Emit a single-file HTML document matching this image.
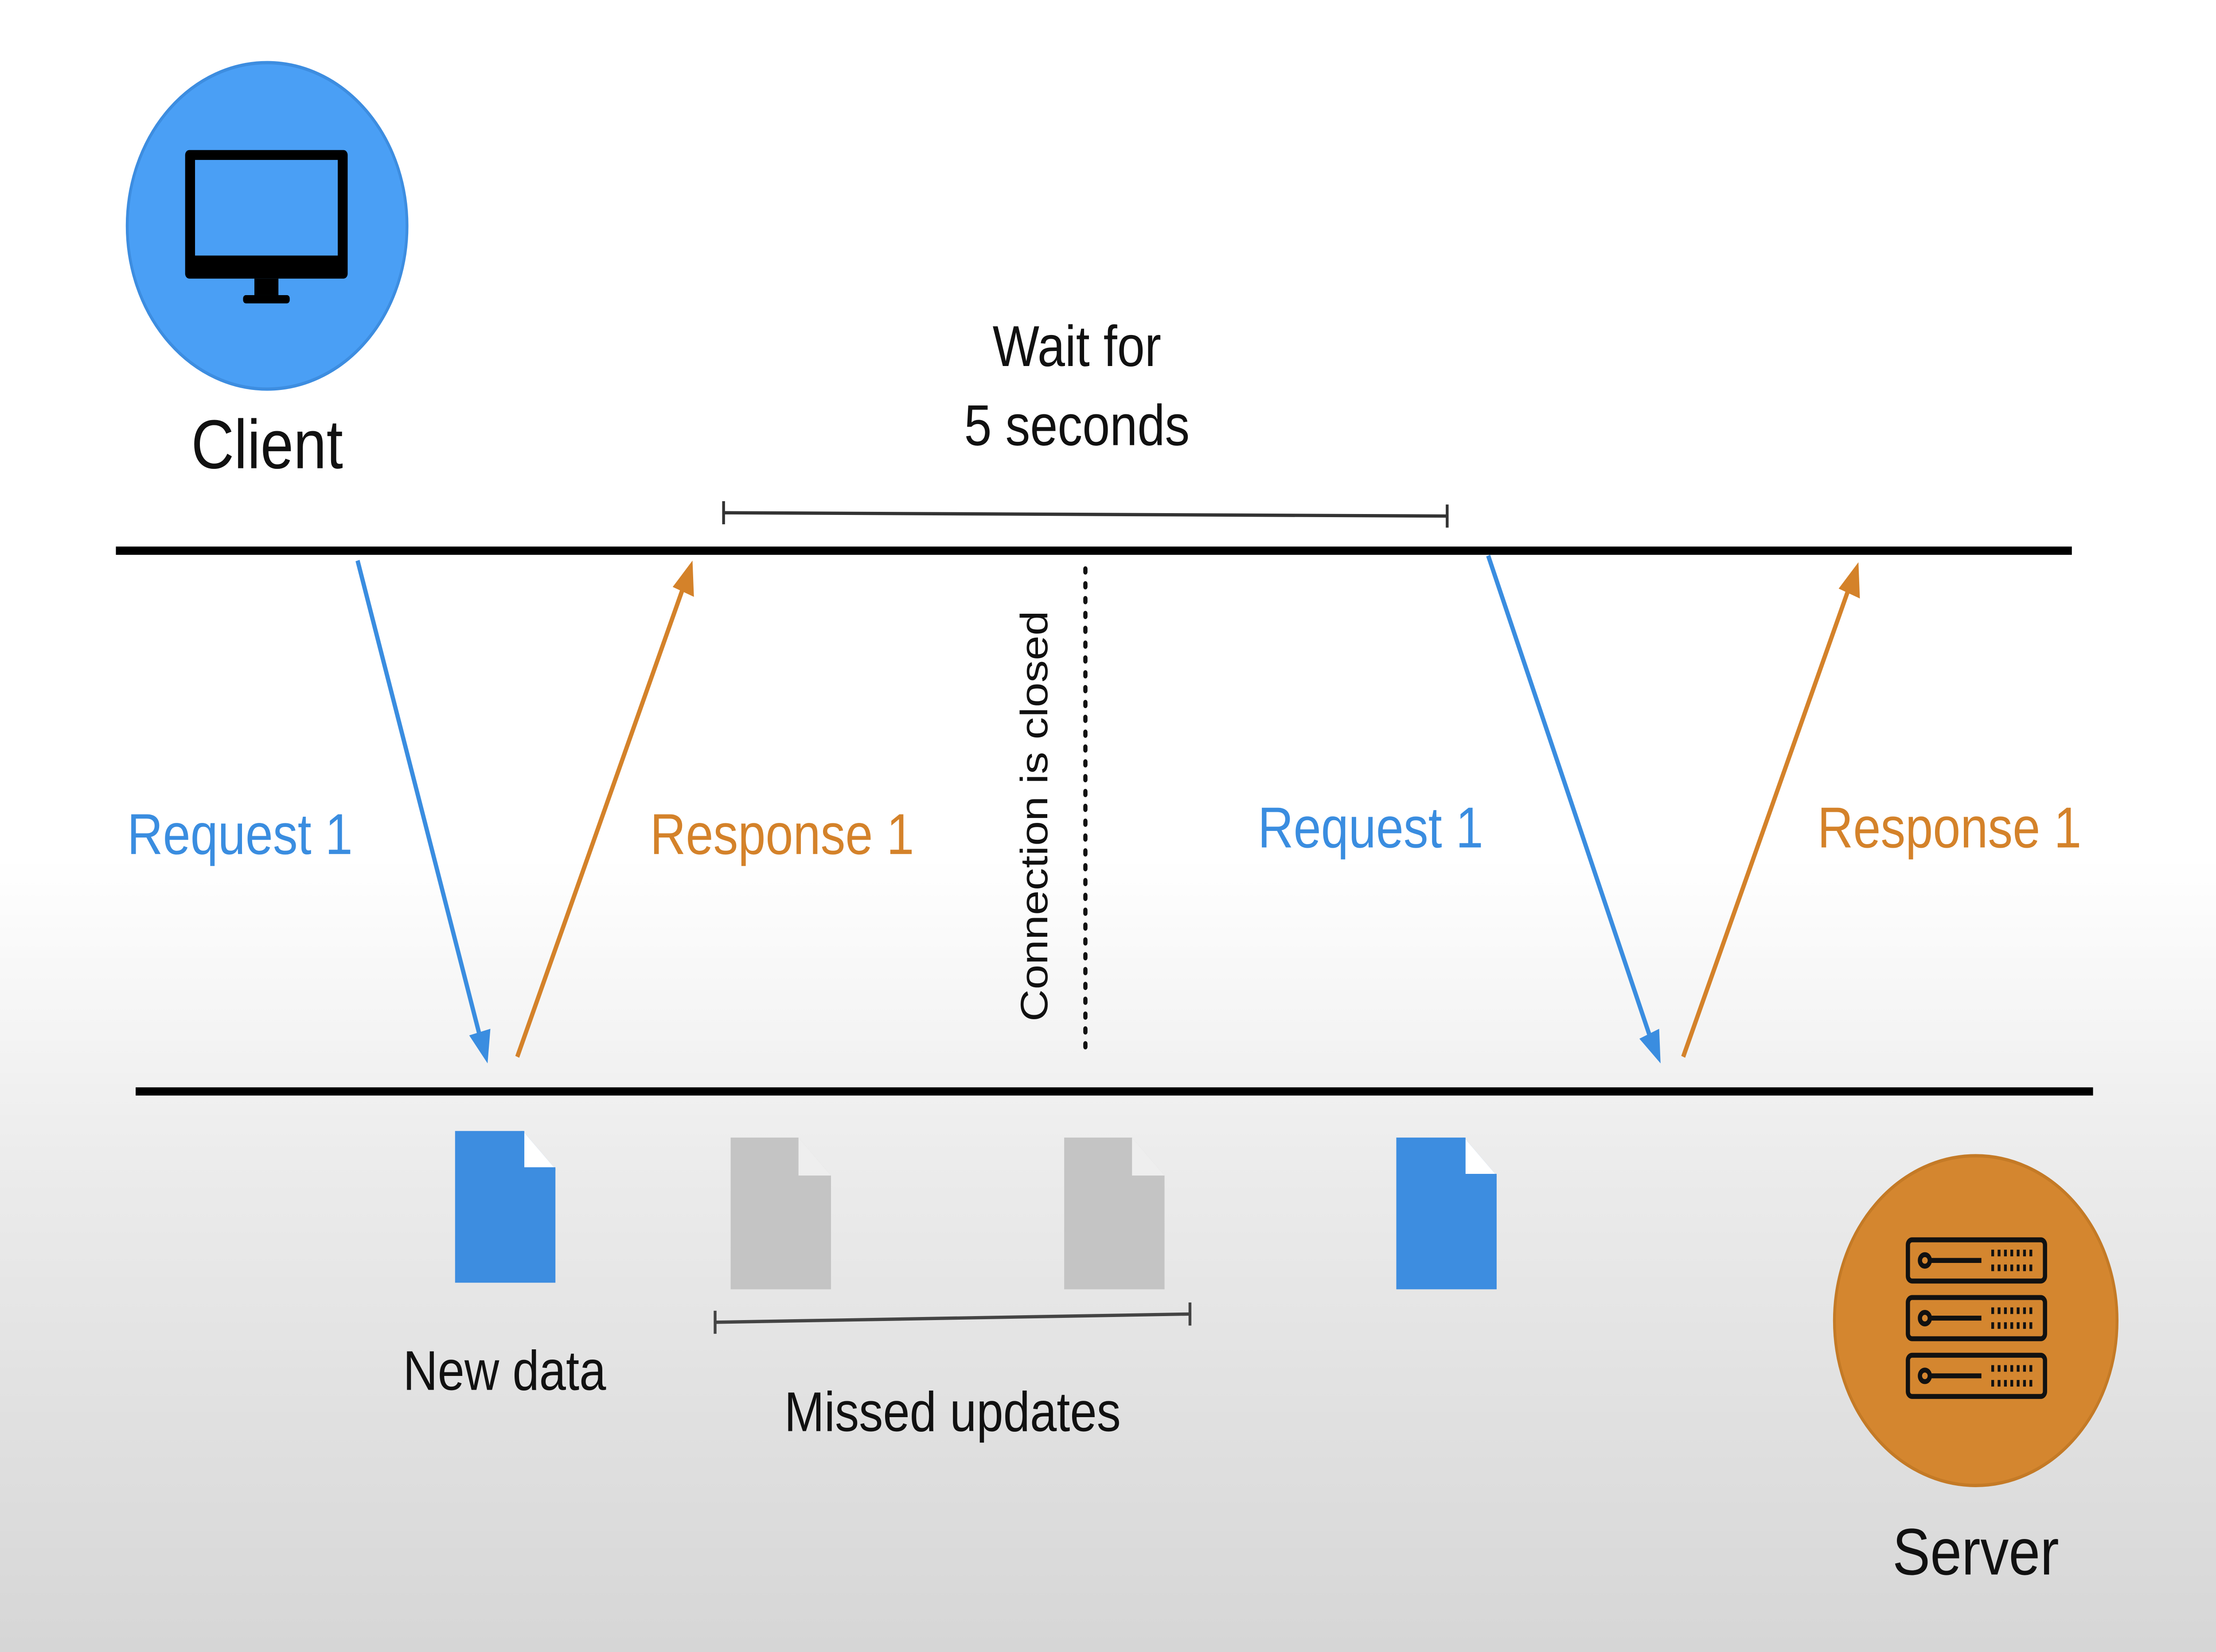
<!DOCTYPE html>
<html><head><meta charset="utf-8"><style>
html,body{margin:0;padding:0;width:100%;height:100%;overflow:hidden;background:#fff}
svg{display:block;position:absolute;left:0;top:0;width:100vw;height:100vh}
text{font-family:"Liberation Sans",sans-serif}
</style></head><body>
<svg viewBox="0 0 1568 1002" preserveAspectRatio="none" xmlns="http://www.w3.org/2000/svg">
<defs>
<linearGradient id="bg" x1="0" y1="0" x2="0" y2="1">
<stop offset="0" stop-color="#ffffff"/><stop offset="0.52" stop-color="#ffffff"/><stop offset="0.7" stop-color="#ececec"/><stop offset="1" stop-color="#d6d6d6"/>
</linearGradient>
</defs>
<rect width="1568" height="1002" fill="url(#bg)"/>
<circle cx="189" cy="137" r="99" fill="#4a9ff5" stroke="#3d8de0" stroke-width="2"/>
<rect x="131" y="91" width="115" height="78" rx="3" fill="#000"/>
<rect x="138" y="97" width="101" height="58" fill="#4a9ff5"/>
<rect x="180" y="169" width="17" height="10" fill="#000"/>
<rect x="172" y="179" width="33" height="5" rx="2" fill="#000"/>
<text x="189" y="284" font-size="42" text-anchor="middle" fill="#111">Client</text>
<text x="762" y="222" font-size="35" text-anchor="middle" fill="#111">Wait for</text>
<text x="762" y="270" font-size="35" text-anchor="middle" fill="#111">5 seconds</text>
<g stroke="#333" stroke-width="2"><line x1="512" y1="311" x2="1024" y2="313"/><line x1="512" y1="304" x2="512" y2="318"/><line x1="1024" y1="306" x2="1024" y2="320"/></g>
<line x1="82" y1="334" x2="1466" y2="334" stroke="#000" stroke-width="5"/>
<line x1="96" y1="662" x2="1481" y2="662" stroke="#000" stroke-width="5"/>
<g stroke-width="3">
<line x1="253" y1="340" x2="340" y2="630" stroke="#3a8de0"/>
<line x1="366" y1="641" x2="484" y2="355" stroke="#d4822a"/>
<line x1="1053" y1="337" x2="1168" y2="630" stroke="#3a8de0"/>
<line x1="1191" y1="641" x2="1309" y2="355" stroke="#d4822a"/>
</g>
<polygon points="345,645 332,628 347,624" fill="#3a8de0"/>
<polygon points="490,340 476,356 491,362" fill="#d4822a"/>
<polygon points="1175,645 1160,630 1174,624" fill="#3a8de0"/>
<polygon points="1315,341 1301,357 1316,363" fill="#d4822a"/>
<text x="90" y="518" font-size="35" fill="#3a8de0">Request 1</text>
<text x="460" y="518" font-size="35" fill="#d4822a">Response 1</text>
<text x="890" y="514" font-size="35" fill="#3a8de0">Request 1</text>
<text x="1286" y="514" font-size="35" fill="#d4822a">Response 1</text>
<text transform="translate(741,495) rotate(-90)" font-size="27" text-anchor="middle" fill="#111">Connection is closed</text>
<line x1="768" y1="345" x2="768" y2="636" stroke="#111" stroke-width="3" stroke-dasharray="2 7" stroke-linecap="round"/>
<g>
<path d="M322,686 H370 L393,709 V778 H322 Z" fill="#3d8de0"/><path d="M370,686 V709 H393 Z" fill="#fff"/><path d="M370,686 V709 H393" fill="none" stroke="#3d8de0" stroke-width="2"/>
<path d="M517,690 H565 L588,713 V782 H517 Z" fill="#c4c4c4"/><path d="M565,690 V713 H588 Z" fill="#eee"/>
<path d="M753,690 H801 L824,713 V782 H753 Z" fill="#c4c4c4"/><path d="M801,690 V713 H824 Z" fill="#eee"/>
<path d="M988,690 H1036 L1059,713 V782 H988 Z" fill="#3d8de0"/><path d="M1036,690 V713 H1059 Z" fill="#fff"/><path d="M1036,690 V713 H1059" fill="none" stroke="#3d8de0" stroke-width="2"/>
</g>
<text x="357" y="843" font-size="34" text-anchor="middle" fill="#111">New data</text>
<g stroke="#444" stroke-width="2"><line x1="506" y1="802" x2="842" y2="797"/><line x1="506" y1="795" x2="506" y2="809"/><line x1="842" y1="790" x2="842" y2="804"/></g>
<text x="674" y="868" font-size="34" text-anchor="middle" fill="#111">Missed updates</text>
<circle cx="1398" cy="801" r="100" fill="#d4862f" stroke="#c47a26" stroke-width="2"/>
<g fill="none" stroke="#111" stroke-width="3">
<rect x="1350" y="752" width="97" height="25" rx="3"/>
<rect x="1350" y="787" width="97" height="25" rx="3"/>
<rect x="1350" y="822" width="97" height="25" rx="3"/>
<circle cx="1362" cy="764.5" r="3.5"/><circle cx="1362" cy="799.5" r="3.5"/><circle cx="1362" cy="834.5" r="3.5"/>
<line x1="1366" y1="764.5" x2="1402" y2="764.5"/><line x1="1366" y1="799.5" x2="1402" y2="799.5"/><line x1="1366" y1="834.5" x2="1402" y2="834.5"/>
</g>
<g stroke="#111" stroke-width="4" stroke-dasharray="2 2.5">
<line x1="1409" y1="760" x2="1440" y2="760"/><line x1="1409" y1="769" x2="1440" y2="769"/>
<line x1="1409" y1="795" x2="1440" y2="795"/><line x1="1409" y1="804" x2="1440" y2="804"/>
<line x1="1409" y1="830" x2="1440" y2="830"/><line x1="1409" y1="839" x2="1440" y2="839"/>
</g>
<text x="1398" y="955" font-size="40" text-anchor="middle" fill="#111">Server</text>
</svg>
</body></html>
